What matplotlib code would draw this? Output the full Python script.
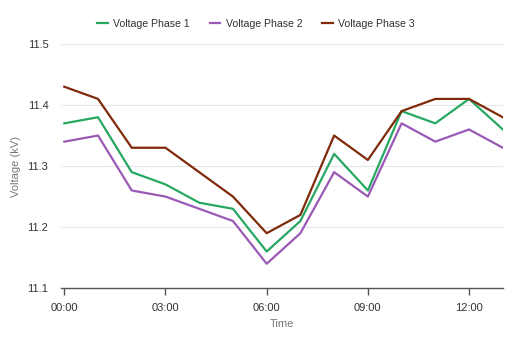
import matplotlib
matplotlib.use("Agg")
import matplotlib.pyplot as plt

plt.rcParams['font.family'] = ['Liberation Sans', 'DejaVu Sans']

hours = list(range(14))
tick_hours = [0, 3, 6, 9, 12]
tick_labels = ["00:00", "03:00", "06:00", "09:00", "12:00"]

phase1 = [11.37, 11.38, 11.29, 11.27, 11.24, 11.23, 11.16, 11.21, 11.32, 11.26, 11.39, 11.37, 11.41, 11.36]
phase2 = [11.34, 11.35, 11.26, 11.25, 11.23, 11.21, 11.14, 11.19, 11.29, 11.25, 11.37, 11.34, 11.36, 11.33]
phase3 = [11.43, 11.41, 11.33, 11.33, 11.29, 11.25, 11.19, 11.22, 11.35, 11.31, 11.39, 11.41, 11.41, 11.38]

fig = plt.figure(figsize=(5.12, 3.41), dpi=100)
ax = fig.add_axes([0.119, 0.155, 0.863, 0.716])

ax.plot(hours, phase1, color='#27a862', lw=1.6, label='Voltage Phase 1')
ax.plot(hours, phase2, color='#9b59b6', lw=1.6, label='Voltage Phase 2')
ax.plot(hours, phase3, color='#7e2a0b', lw=1.6, label='Voltage Phase 3')

ax.set_xlim(-0.1, 13.0)
ax.set_ylim(11.1, 11.5)
ax.set_yticks([11.1, 11.2, 11.3, 11.4, 11.5])
ax.set_yticklabels(["11.1", "11.2", "11.3", "11.4", "11.5"])
ax.set_xticks(tick_hours)
ax.set_xticklabels(tick_labels)

ax.grid(axis='y', color='#e6e6e6', lw=0.8)
ax.set_axisbelow(True)
for s in ['top', 'right', 'left']:
    ax.spines[s].set_visible(False)
ax.spines['bottom'].set_color('#555555')
ax.spines['bottom'].set_linewidth(1.0)
ax.tick_params(axis='x', colors='#555555', length=5, width=1, labelcolor='#333333', labelsize=8, pad=6)
ax.tick_params(axis='y', length=0, labelcolor='#333333', labelsize=8, pad=9)

ax.set_xlabel('Time', color='#777777', fontsize=8, labelpad=4)
ax.set_ylabel('Voltage (kV)', color='#777777', fontsize=8, labelpad=5)

fig.legend(loc='upper center', bbox_to_anchor=(0.5, 0.972), ncol=3, frameon=False,
           fontsize=7.6, handlelength=1.0, columnspacing=1.9, handletextpad=0.5,
           labelcolor='#333333')

fig.savefig('out.png', dpi=100)
